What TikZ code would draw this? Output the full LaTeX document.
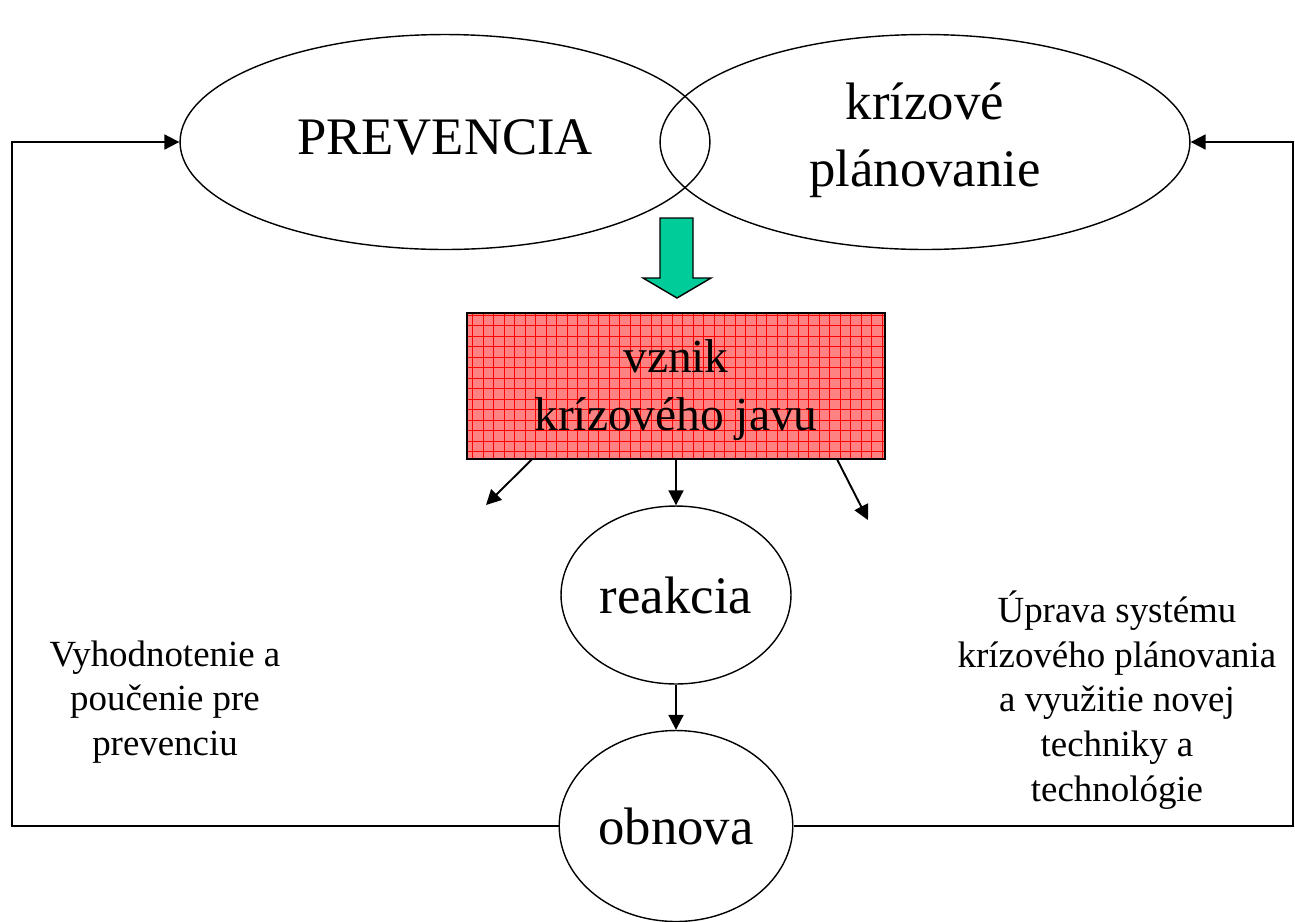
\documentclass[tikz,border=0pt]{standalone}
\usepackage{fontspec}
\setmainfont{Liberation Serif}
\usetikzlibrary{arrows.meta,positioning,shapes}
\definecolor{arrowgreen}{RGB}{0,204,153}
\definecolor{boxpink}{RGB}{255,130,130}

\begin{document}
\begin{tikzpicture}[x=0.02cm,y=-0.02cm,inner sep=1mm,
  phase/.style={ellipse,draw,line width=0.8pt,font=\fontsize{30}{34}\selectfont,align=center},
  note/.style={font=\fontsize{21}{25.5}\selectfont,align=center},
  link/.style={line width=1.1pt,-{Triangle[length=8.5pt,width=8.5pt]}}]
  \useasboundingbox (0,0) rectangle (1295,921);
  \node[phase,minimum width=10.6cm,minimum height=4.3cm] (prev) at (445,142) {};
  \node[phase,minimum width=10.6cm,minimum height=4.3cm] (plan) at (925,142) {};
  \node[font=\fontsize{30}{34}\selectfont] at (445,137) {PREVENCIA};
  \node[font=\fontsize{30}{38}\selectfont,align=center] at (925,140) {krízové\\plánovanie};
  \node[draw,line width=0.8pt,fill=boxpink,minimum width=8.34cm,minimum height=2.9cm] (vznik) at (676,386) {};
  \begin{scope}
    \clip (vznik.south west) rectangle (vznik.north east);
    \draw[red,line width=0.3pt] (vznik.south west) grid[step=0.21cm] (vznik.north east);
  \end{scope}
  \draw[line width=0.8pt] (vznik.south west) rectangle (vznik.north east);
  \node[font=\fontsize{27}{33}\selectfont,align=center] at (676,390) {vznik\\krízového javu};
  \draw[line width=0.8pt,fill=arrowgreen] (660,218) -- (693,218) -- (693,278) -- (711,278)
    -- (677,298) -- (643,278) -- (660,278) -- cycle;
  \node[phase,minimum width=4.6cm,minimum height=3.56cm] (reak) at (676,595) {reakcia};
  \node[phase,minimum width=4.54cm,minimum height=3.82cm] (obn) at (676,826) {obnova};
  \coordinate (lend) at (486,505);
  \coordinate (rend) at (868,520);
  \coordinate (lc) at (12,826);
  \coordinate (rc) at (1293,826);
  \draw[link] (vznik.south -| 532,0) -- (lend);
  \draw[link] (vznik.south) -- (reak.north);
  \draw[link] (vznik.south -| 837,0) -- (rend);
  \draw[link] (reak.south) -- (obn.north);
  \draw[link] (obn.west) -- (lc) |- (prev.west);
  \draw[link] (obn.east) -- (rc) |- (plan.east);
  \node[note] (eval) at (165,702) {Vyhodnotenie a\\poučenie pre\\prevenciu};
  \node[note] (upr) at (1117,700) {Úprava systému\\krízového plánovania\\a využitie novej\\techniky a\\technológie};
\end{tikzpicture}
\end{document}
